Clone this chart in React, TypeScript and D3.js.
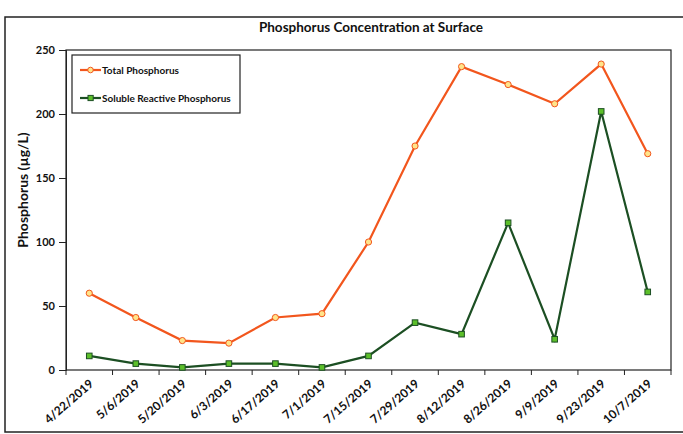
import React, { useEffect, useRef } from 'react';
import * as d3 from 'd3';

const dates = [
  '4/22/2019', '5/6/2019', '5/20/2019', '6/3/2019', '6/17/2019', '7/1/2019', '7/15/2019',
  '7/29/2019', '8/12/2019', '8/26/2019', '9/9/2019', '9/23/2019', '10/7/2019',
];
const totalP = [60, 41, 23, 21, 41, 44, 100, 175, 237, 223, 208, 239, 169];
const solubleP = [11, 5, 2, 5, 5, 2, 11, 37, 28, 115, 24, 202, 61];
const yTicks = [0, 50, 100, 150, 200, 250];

const WIDTH = 683;
const HEIGHT = 434;
const FONT = 'Lato, "Open Sans", sans-serif';
const TP_COLOR = '#f2561d';
const TP_FILL = '#ffe48a';
const SRP_COLOR = '#1c4f23';
const SRP_FILL = '#5cbf2a';

const App: React.FC = () => {
  const svgRef = useRef<SVGSVGElement>(null);

  useEffect(() => {
    const svg = d3.select(svgRef.current);
    svg.selectAll('*').remove();

    const margin = { left: 66, right: 671, top: 50, bottom: 370 };

    // outer chart frame
    svg.append('rect')
      .attr('x', 5).attr('y', 17)
      .attr('width', 700).attr('height', 415)
      .attr('fill', '#fff')
      .attr('stroke', '#222').attr('stroke-width', 1.5);

    const x = d3.scaleBand<string>()
      .domain(dates)
      .range([margin.left, margin.right]);

    const y = d3.scaleLinear()
      .domain([0, 250])
      .range([margin.bottom, margin.top]);

    // plot area
    svg.append('rect')
      .attr('x', margin.left).attr('y', margin.top)
      .attr('width', margin.right - margin.left)
      .attr('height', margin.bottom - margin.top)
      .attr('fill', 'none')
      .attr('stroke', '#222').attr('stroke-width', 1.2);

    // title
    svg.append('text')
      .attr('x', 371).attr('y', 32)
      .attr('text-anchor', 'middle')
      .attr('font-family', FONT)
      .attr('font-size', '13.5px')
      .attr('font-weight', 'bold')
      .attr('fill', '#111')
      .text('Phosphorus  Concentration at Surface');

    // y axis
    svg.append('g')
      .attr('transform', `translate(${margin.left},0)`)
      .call(d3.axisLeft(y).tickValues(yTicks).tickSize(7).tickPadding(4))
      .call(g => g.select('.domain').attr('stroke', '#222'))
      .call(g => g.selectAll('.tick line').attr('stroke', '#222'))
      .call(g => g.selectAll('.tick text')
        .attr('fill', '#111')
        .attr('font-family', FONT)
        .attr('font-size', '11px')
        .attr('font-weight', 'bold'));

    // y axis label
    svg.append('text')
      .attr('transform', `translate(28,190) rotate(-90)`)
      .attr('text-anchor', 'middle')
      .attr('font-family', FONT)
      .attr('font-size', '14px')
      .attr('font-weight', 'bold')
      .attr('fill', '#111')
      .text('Phosphorus  (µg/L)');

    // x axis ticks at category boundaries
    const boundaries = d3.range(dates.length + 1).map(i => margin.left + i * x.step());
    svg.append('g')
      .selectAll('line')
      .data(boundaries)
      .enter()
      .append('line')
      .attr('x1', d => d).attr('x2', d => d)
      .attr('y1', margin.bottom).attr('y2', margin.bottom + 5)
      .attr('stroke', '#222');

    // x tick labels
    svg.append('g')
      .selectAll('text')
      .data(dates)
      .enter()
      .append('text')
      .attr('transform', d => `translate(${(x(d) ?? 0) + x.bandwidth() / 2 + 5},${margin.bottom + 15}) rotate(-41)`)
      .attr('text-anchor', 'end')
      .attr('font-family', FONT)
      .attr('font-size', '12px')
      .attr('font-weight', 'bold')
      .attr('fill', '#111')
      .text(d => d);

    const cx = (i: number) => (x(dates[i]) ?? 0) + x.bandwidth() / 2;

    const line = d3.line<number>()
      .x((_, i) => cx(i))
      .y(d => y(d));

    // soluble reactive phosphorus
    svg.append('path')
      .datum(solubleP)
      .attr('fill', 'none')
      .attr('stroke', SRP_COLOR)
      .attr('stroke-width', 2.2)
      .attr('d', line);

    svg.append('g')
      .selectAll('rect')
      .data(solubleP)
      .enter()
      .append('rect')
      .attr('x', (_, i) => cx(i) - 2.8)
      .attr('y', d => y(d) - 2.8)
      .attr('width', 5.6).attr('height', 5.6)
      .attr('fill', SRP_FILL)
      .attr('stroke', SRP_COLOR)
      .attr('stroke-width', 1);

    // total phosphorus
    svg.append('path')
      .datum(totalP)
      .attr('fill', 'none')
      .attr('stroke', TP_COLOR)
      .attr('stroke-width', 2.2)
      .attr('d', line);

    svg.append('g')
      .selectAll('circle')
      .data(totalP)
      .enter()
      .append('circle')
      .attr('cx', (_, i) => cx(i))
      .attr('cy', d => y(d))
      .attr('r', 3.1)
      .attr('fill', TP_FILL)
      .attr('stroke', TP_COLOR)
      .attr('stroke-width', 1);

    // legend
    const legend = svg.append('g');
    legend.append('rect')
      .attr('x', 72).attr('y', 55)
      .attr('width', 168).attr('height', 58)
      .attr('fill', '#fff')
      .attr('stroke', '#222').attr('stroke-width', 1.2);

    const items = [
      { label: 'Total Phosphorus', color: TP_COLOR, fill: TP_FILL, shape: 'circle', yy: 70 },
      { label: 'Soluble Reactive Phosphorus', color: SRP_COLOR, fill: SRP_FILL, shape: 'square', yy: 98 },
    ];
    items.forEach(it => {
      legend.append('line')
        .attr('x1', 80).attr('x2', 101)
        .attr('y1', it.yy).attr('y2', it.yy)
        .attr('stroke', it.color).attr('stroke-width', 2.2);
      if (it.shape === 'circle') {
        legend.append('circle')
          .attr('cx', 90.5).attr('cy', it.yy).attr('r', 2.8)
          .attr('fill', it.fill).attr('stroke', it.color);
      } else {
        legend.append('rect')
          .attr('x', 88).attr('y', it.yy - 2.6)
          .attr('width', 5.2).attr('height', 5.2)
          .attr('fill', it.fill).attr('stroke', it.color);
      }
      legend.append('text')
        .attr('x', 102).attr('y', it.yy + 3.5)
        .attr('font-family', FONT)
        .attr('font-size', '10px')
        .attr('font-weight', 'bold')
        .attr('fill', '#111')
        .text(it.label);
    });
  }, []);

  return (
    <svg
      ref={svgRef}
      width={WIDTH}
      height={HEIGHT}
      style={{ position: 'absolute', left: 0, top: 0, background: '#fff' }}
    />
  );
};

export default App;
